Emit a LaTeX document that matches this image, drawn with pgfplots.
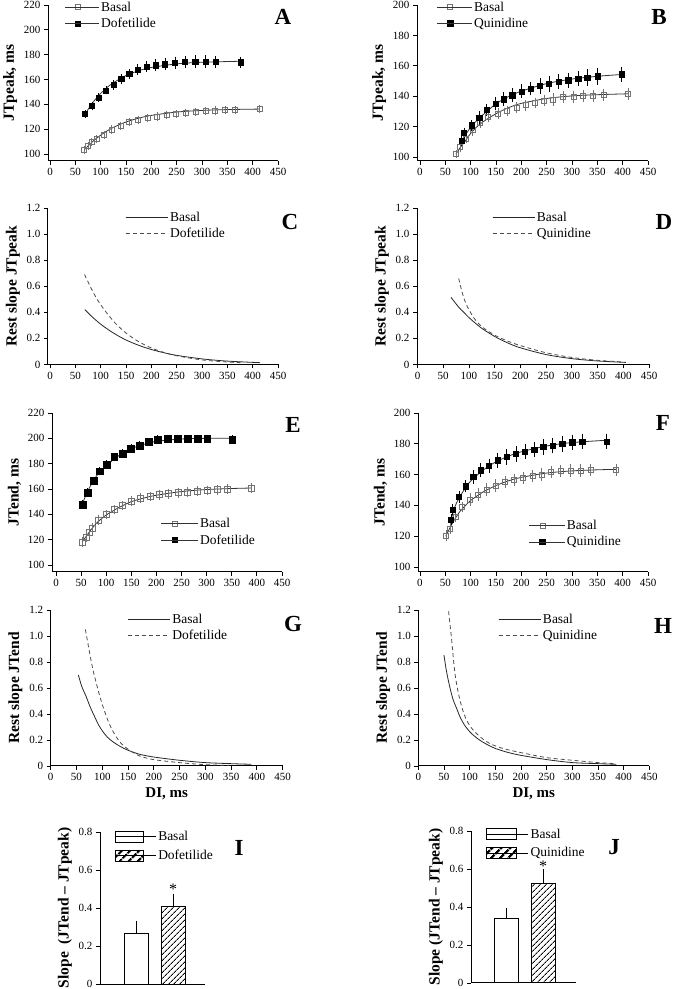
\documentclass[border=0pt]{standalone}
\usepackage{pgfplots}
\pgfplotsset{compat=1.18}
\usepackage{fontspec}
\setmainfont{Liberation Serif}
\usetikzlibrary{patterns.meta}
\pgfplotsset{
  panel/.style={scale only axis, axis lines*=left, tick align=outside,
    major tick length=4pt, axis line style={line width=1pt,-},
    tick style={line width=0.9pt,black},
    every tick label/.append style={font=\fontsize{11}{12}\selectfont},
    /pgf/number format/assume math mode=true,
    ylabel style={font=\fontsize{15.5}{17}\selectfont\bfseries},
    xlabel style={font=\fontsize{15}{17}\selectfont\bfseries},
    legend style={draw=none, fill=none, font=\fontsize{13.5}{15}\selectfont,
      anchor=north west, inner sep=0pt, row sep=1.5pt},
    legend cell align=left, clip=false},
  dix/.style={xmax=450, xtick={0,50,...,450}},
  slopey/.style={ymin=0, ymax=1.2, ytick={0,0.2,...,1.2},
    yticklabels={0,0.2,0.4,0.6,0.8,1.0,1.2}},
  markleg/.style={legend image code/.code={\draw[mark repeat=2,mark phase=2,##1] plot coordinates {(0pt,0pt) (#1/2,0pt) (#1,0pt)}; \path (0pt,0pt) -- (#1+8.5pt,0pt);}},
  lineleg/.style={legend image code/.code={\draw[##1] (0pt,0pt) -- (28pt,0pt); \path (0pt,0pt) -- (42pt,0pt);}},
  fit/.style={black!80, line width=0.8pt, smooth, no marks},
  openpts/.style={only marks, mark=square, mark size=2.5pt, mark options={draw=black!55, line width=0.8pt},
    error bars/y dir=both, error bars/y explicit,
    error bars/error bar style={black!55, line width=0.7pt},
    error bars/error mark options={black!55, mark size=2.3pt, line width=0.7pt}},
  fillpts/.style={only marks, mark=square*, mark size=2.6pt, mark options={black},
    error bars/y dir=both, error bars/y explicit,
    error bars/error bar style={black, line width=0.7pt},
    error bars/error mark options={black, mark size=2.3pt, line width=0.7pt}},
  barerr/.style={error bars/y dir=plus, error bars/y explicit,
    error bars/error bar style={line width=1pt},
    error bars/error mark options={line width=1pt, mark size=3pt}},
  solidc/.style={black!85, line width=0.8pt, smooth},
  dashc/.style={black!70, line width=0.8pt, smooth, dash pattern=on 4pt off 3pt},
  legopen/.style={black!80, line width=0.8pt, mark=square, mark size=2.6pt, mark options={draw=black!55, fill=white, solid}, markleg=#1},
  legfill/.style={black!80, line width=0.8pt, mark=square*, mark size=2.7pt, mark options={black, solid}, markleg=#1},
  legsolid/.style={black!85, line width=0.8pt, lineleg},
  legdash/.style={black!70, line width=0.8pt, dash pattern=on 4pt off 3pt, lineleg},
}
\begin{document}
\begin{tikzpicture}
\path[use as bounding box] (0pt,0pt) rectangle (673pt,989pt);

% ---------------- A ----------------
\begin{axis}[panel, dix, at={(48pt,828pt)}, anchor=south west, width=230pt, height=156pt,
  xmin=-4, ymin=94.4, ymax=220, ytick={100,120,...,220}, ylabel={JTpeak, ms},
  legend style={at={(0.072,1.035)}}]
\addplot[fit, forget plot] coordinates {(68,103.5)(80,108.5)(90,112.1)(100,115.2)(115,119.2)(130,122.4)(150,125.8)(175,128.9)(200,131.1)(250,133.8)(300,135.1)(350,135.8)(414,136.2)};
\addplot[fit, forget plot] coordinates {(69,132)(80,138.9)(90,144.3)(100,148.8)(112,153.4)(125,157.4)(150,163.2)(175,167.1)(200,169.7)(250,172.6)(300,173.9)(376,174.7)};
\addplot[openpts, forget plot] table[x=x,y=y,y error=e] {
x y e
67.7 103.2 1.5
75.5 106.5 1.5
82.2 109.5 1.5
92 112 1.5
106.5 115.5 1.5
121.7 119.8 1.5
139.4 122.8 1.5
156.4 125.8 1.5
174.2 127.3 1.5
192.7 128.8 1.5
211 130.2 1.5
230 131.3 1.5
249 132.2 1.5
267.5 132.9 1.5
287 133.8 1.5
307 134.4 1.5
326 135.1 1.5
346 135.3 1.5
365.7 135.4 1.5
414 136.2 1.5
};
\addplot[fillpts, forget plot] table[x=x,y=y,y error=e] {
x y e
69 132.2 1.5
83 138.7 1.5
96 145.4 1.5
110.5 151.3 1.5
125.6 155.6 1.8
140.6 160.4 2
156.4 164.4 2.2
173 168.1 2.5
190.7 170.3 2.8
208.5 171.6 2.8
227 172.4 3
246.5 173.5 3
266.3 174.2 3
286.6 174.5 3
307 174.5 3
327 174.4 3
376 174 2.5
};
\addlegendimage{legopen=25pt}
\addlegendentry{Basal}
\addlegendimage{legfill=25pt}
\addlegendentry{Dofetilide}
\end{axis}

% ---------------- B ----------------
\begin{axis}[panel, dix, at={(417pt,828pt)}, anchor=south west, width=231pt, height=156pt,
  xmin=-5.9, ymin=97.4, ymax=200, ytick={100,120,...,200}, ylabel={JTpeak, ms},
  legend style={at={(0.085,1.035)}}]
\addplot[fit, forget plot] coordinates {(71,102)(80,106.5)(90,111)(100,115.5)(112,119.8)(125,123.3)(150,128.5)(175,132.5)(200,135.3)(250,138.5)(300,140.2)(350,141)(411,141.6)};
\addplot[fit, forget plot] coordinates {(82,110.5)(90,114.8)(100,119.5)(112,124)(125,128)(150,135)(175,139.8)(200,143.3)(250,148.3)(300,151.3)(350,153.1)(398,154.3)};
\addplot[openpts, forget plot] table[x=x,y=y,y error=e] {
x y e
71 101.8 1
79 106.6 1.5
91 112 1.5
104 117.6 2
118.4 122.5 2
135 126.4 2
154.6 128.6 2
172.4 130.2 2
191 132.5 2
208.6 134 2
227 135.6 2
245 137.2 2
263 137.8 2.5
282 139.4 2.5
303 139.6 2.5
322.4 140.2 2.5
342 140.4 2.5
362 140.7 2.5
411 141.2 2.5
};
\addplot[fillpts, forget plot] table[x=x,y=y,y error=e] {
x y e
82 110.5 2
87 115.8 2
102 120.9 2
117 126 2.5
131.6 131.2 2.5
148.7 135.2 3
164.5 138 3
182 140.7 3
200.7 143.2 3
218.5 145 3
236.8 146.8 3.5
254.6 148 3.5
273 149.5 3.5
292.7 150.5 3.5
312.4 151.6 3.5
330 152.3 4
350 153.2 4
398 154.5 3.5
};
\addlegendimage{legopen=26pt}
\addlegendentry{Basal}
\addlegendimage{legfill=26pt}
\addlegendentry{Quinidine}
\end{axis}

% ---------------- C ----------------
\begin{axis}[panel, dix, slopey, at={(48pt,624.5pt)}, anchor=south west, width=230pt, height=156.5pt,
  xmin=-4, ylabel={Rest slope JTpeak}, legend style={at={(0.335,0.99)}}]
\addplot[solidc, forget plot] coordinates {(69,0.42)(80,0.377)(90,0.342)(100,0.309)(115,0.267)(130,0.230)(150,0.188)(175,0.147)(200,0.115)(225,0.090)(250,0.070)(300,0.043)(350,0.026)(414,0.014)};
\addplot[dashc, forget plot] coordinates {(68,0.69)(80,0.594)(90,0.52)(100,0.458)(115,0.38)(130,0.312)(150,0.241)(175,0.175)(200,0.127)(225,0.092)(250,0.067)(300,0.035)(350,0.019)(376,0.014)};
\addlegendimage{legsolid}
\addlegendentry{Basal}
\addlegendimage{legdash}
\addlegendentry{Dofetilide}
\end{axis}

% ---------------- D ----------------
\begin{axis}[panel, dix, slopey, at={(417pt,624.5pt)}, anchor=south west, width=232pt, height=156.5pt,
  xmin=-1, ylabel={Rest slope JTpeak}, legend style={at={(0.323,0.99)}}]
\addplot[solidc, forget plot] coordinates {(65,0.515)(80,0.44)(90,0.40)(100,0.36)(110,0.325)(125,0.277)(150,0.215)(175,0.166)(200,0.128)(250,0.076)(300,0.045)(350,0.027)(405,0.016)};
\addplot[dashc, forget plot] coordinates {(80,0.66)(85,0.58)(90,0.51)(95,0.46)(100,0.42)(110,0.355)(125,0.29)(150,0.225)(175,0.18)(200,0.145)(250,0.09)(300,0.054)(350,0.032)(398,0.02)};
\addlegendimage{legsolid}
\addlegendentry{Basal}
\addlegendimage{legdash}
\addlegendentry{Quinidine}
\end{axis}

% ---------------- E ----------------
\begin{axis}[panel, dix, at={(52pt,417pt)}, anchor=south west, width=230pt, height=159pt,
  xmin=-8, ymin=94.5, ymax=220, ytick={100,120,...,220}, ylabel={JTend, ms},
  legend style={at={(0.472,0.352)}}]
\addplot[fit, forget plot] coordinates {(52,118)(60,122.6)(70,128)(80,132.8)(90,136.4)(100,139.5)(125,145.3)(150,150)(175,152.9)(200,155.1)(250,158)(300,159.6)(350,160.4)(390,160.8)};
\addplot[fit, forget plot] coordinates {(52,148)(60,155.5)(70,163.5)(80,170)(90,174.5)(100,178.5)(125,186.3)(150,191.8)(175,195.3)(200,197.6)(250,199.5)(300,200)(351,200.1)};
\addplot[openpts, mark size=3pt, forget plot] table[x=x,y=y,y error=e] {
x y e
52.4 118.2 2
59.8 122 2
66.3 126 2
73 129.2 2
85 135.3 2
101 139.8 2
116 143.7 2
133 147.1 2
151 150.5 2
168.7 152.7 2
187 154 2
205 155.4 2
224.5 156.3 2
243.6 157.1 2
262 157.6 2
281.5 158.2 2
301 158.9 2
321 159.3 2
341 159.8 2
389.8 160.8 2
};
\addplot[fillpts, mark size=3.4pt, forget plot] table[x=x,y=y,y error=e] {
x y e
52.4 147.9 1.5
63 157.4 1.5
74.4 166.3 1.5
86.3 174 1.5
101 179.5 1.5
116 185.3 1.5
133 187.9 1.5
149.4 192.1 1.5
166 194.5 1.5
184 197.1 1.5
201.8 199 1.5
221.7 199.7 1.5
241.6 199.7 1.5
261.5 199.7 1.5
281.5 199.7 1.5
301 199.7 1.5
351 199.2 1.5
};
\addlegendimage{legopen=28pt}
\addlegendentry{Basal}
\addlegendimage{legfill=28pt}
\addlegendentry{Dofetilide}
\end{axis}

% ---------------- F ----------------
\begin{axis}[panel, dix, at={(418pt,417pt)}, anchor=south west, width=230pt, height=159pt,
  xmin=-3.9, ymin=96.75, ymax=200, ytick={100,120,...,200}, ylabel={JTend, ms},
  legend style={at={(0.48,0.34)}}]
\addplot[fit, forget plot] coordinates {(51,120)(60,126)(70,131.8)(80,136.5)(90,140)(100,143.2)(125,148.8)(150,152.9)(175,156)(200,158.2)(250,161)(300,162.4)(350,163.1)(387,163.4)};
\addplot[fit, forget plot] coordinates {(61,130.5)(70,140)(80,146.3)(90,151.5)(100,155.8)(125,163)(150,168.3)(175,172)(200,174.8)(250,178.6)(300,180.8)(368,182.3)};
\addplot[openpts, forget plot] table[x=x,y=y,y error=e] {
x y e
51.3 120.4 2
59.2 124.8 2
70.4 132.5 2
82.8 139 2
98.6 143.8 2.5
115 147 2.5
131.6 150.3 2.5
149.3 152.9 2.5
167.7 155 2.5
185.4 156.3 2.5
203.8 157.8 2.5
222.3 158.9 2.5
240 160 2.5
258.4 161.7 2.5
277.5 162.3 2.5
297 162.6 2.5
316.8 162.6 2.5
336.5 162.8 2.5
386.6 163 2.5
};
\addplot[fillpts, forget plot] table[x=x,y=y,y error=e] {
x y e
61.1 130.8 2
64.5 137.3 2
77 145.5 2.5
90.1 152.4 2.5
105.2 158.5 3
119.7 162.8 3
136 165.8 3
153.3 169.3 3.5
171 171.5 3.5
189.3 173.4 3.5
207.1 175.1 3.5
225.5 176.2 3.5
243.3 177.9 3.5
261.8 178.8 3.5
280.7 179.9 3.5
300.4 181 3.5
320.2 181.6 3.5
368.3 181.6 3.5
};
\addlegendimage{legopen=27pt}
\addlegendentry{Basal}
\addlegendimage{legfill=27pt}
\addlegendentry{Quinidine}
\end{axis}

% ---------------- G ----------------
\begin{axis}[panel, dix, slopey, at={(50.7pt,223pt)}, anchor=south west, width=232pt, height=156pt,
  xmin=0, ylabel={Rest slope JTend}, xlabel={DI, ms}, legend style={at={(0.33,0.99)}}]
\addplot[solidc, forget plot] coordinates {(53.7,0.70)(60,0.615)(69,0.532)(77,0.45)(85.4,0.378)(93,0.315)(101.6,0.262)(110,0.222)(121,0.185)(135,0.15)(150,0.121)(172.7,0.09)(200,0.069)(250,0.044)(300,0.026)(350,0.018)(389,0.013)};
\addplot[dashc, forget plot] coordinates {(67.3,1.05)(75.7,0.866)(82,0.74)(88.6,0.635)(95,0.54)(101.6,0.455)(110,0.36)(117.7,0.29)(127,0.225)(137,0.172)(153,0.121)(172.7,0.077)(200,0.049)(250,0.026)(300,0.010)(347,0.005)};
\addlegendimage{legsolid}
\addlegendentry{Basal}
\addlegendimage{legdash}
\addlegendentry{Dofetilide}
\end{axis}

% ---------------- H ----------------
\begin{axis}[panel, dix, slopey, at={(418.3pt,223pt)}, anchor=south west, width=231pt, height=156pt,
  xmin=0, ylabel={Rest slope JTend}, xlabel={DI, ms}, legend style={at={(0.345,0.99)}}]
\addplot[solidc, forget plot] coordinates {(50,0.853)(54,0.75)(58.4,0.66)(63,0.58)(68.2,0.506)(75,0.44)(81.2,0.378)(90,0.315)(100.6,0.262)(110,0.228)(120,0.198)(135,0.163)(150.6,0.134)(175,0.104)(200,0.082)(250.6,0.049)(300.6,0.026)(350.6,0.018)(386,0.013)};
\addplot[dashc, forget plot] coordinates {(59,1.19)(62,1.08)(65,0.97)(68,0.84)(71.4,0.712)(76,0.6)(81.2,0.506)(87,0.425)(94.2,0.352)(103,0.295)(113.6,0.249)(125,0.21)(139.6,0.172)(165.6,0.134)(200,0.103)(250.6,0.064)(300.6,0.044)(350.6,0.026)(386,0.018)};
\addlegendimage{legsolid}
\addlegendentry{Basal}
\addlegendimage{legdash}
\addlegendentry{Quinidine}
\end{axis}

% ---------------- I ----------------
\begin{axis}[panel, at={(100pt,5pt)}, anchor=south west, width=105pt, height=152pt,
  xmin=0, xmax=105, xtick=\empty, ymin=0, ymax=0.8, ytick={0,0.2,...,0.8},
  yticklabels={0,0.2,0.4,0.6,0.8}, ylabel={Slope\ \ (JTend -- JTpeak)},
  legend style={at={(0.13,1.02)}, row sep=4pt}]
\addplot[ybar, bar shift=0pt, bar width=24pt, draw=black, line width=1pt, fill=white, forget plot, barerr]
  coordinates {(36,0.268) +- (0,0.048)};
\addplot[ybar, bar shift=0pt, bar width=24pt, draw=black, line width=1pt, pattern={Lines[angle=45,distance=4pt,line width=0.9pt]}, forget plot, barerr]
  coordinates {(73,0.41) +- (0,0.048)};
\node[font=\fontsize{16}{16}\selectfont] at (axis cs:73,0.497) {*};
\addlegendimage{legend image code/.code={\draw[black,line width=1pt,fill=white] (0pt,-5.5pt) rectangle (28pt,5.5pt); \path (0,0) -- (41pt,0);}}
\addlegendentry{Basal}
\addlegendimage{legend image code/.code={\draw[black,line width=1pt,pattern={Lines[angle=45,distance=6.5pt,line width=2.4pt]}] (0pt,-5.5pt) rectangle (28pt,5.5pt); \path (0,0) -- (41pt,0);}}
\addlegendentry{Dofetilide}
\end{axis}

% ---------------- J ----------------
\begin{axis}[panel, at={(471pt,6pt)}, anchor=south west, width=105pt, height=152pt,
  xmin=0, xmax=105, xtick=\empty, ymin=0, ymax=0.8, ytick={0,0.2,...,0.8},
  yticklabels={0,0.2,0.4,0.6,0.8}, ylabel={Slope (JTend -- JTpeak)},
  legend style={at={(0.14,1.03)}, row sep=4pt}]
\addplot[ybar, bar shift=0pt, bar width=24pt, draw=black, line width=1pt, fill=white, forget plot, barerr]
  coordinates {(35,0.337) +- (0,0.042)};
\addplot[ybar, bar shift=0pt, bar width=24pt, draw=black, line width=1pt, pattern={Lines[angle=45,distance=4pt,line width=0.9pt]}, forget plot, barerr]
  coordinates {(72,0.526) +- (0,0.058)};
\node[font=\fontsize{16}{16}\selectfont] at (axis cs:72,0.615) {*};
\addlegendimage{legend image code/.code={\draw[black,line width=1pt,fill=white] (0pt,-5.5pt) rectangle (30pt,5.5pt); \path (0,0) -- (42pt,0);}}
\addlegendentry{Basal}
\addlegendimage{legend image code/.code={\draw[black,line width=1pt,pattern={Lines[angle=45,distance=6.5pt,line width=2.4pt]}] (0pt,-5.5pt) rectangle (30pt,5.5pt); \path (0,0) -- (42pt,0);}}
\addlegendentry{Quinidine}
\end{axis}

% panel letters
\begin{scope}[every node/.style={font=\fontsize{23}{23}\selectfont\bfseries}]
\node at (283pt,972pt) {A};
\node at (659pt,972pt) {B};
\node at (290pt,767pt) {C};
\node at (664pt,767pt) {D};
\node at (293pt,564pt) {E};
\node at (663pt,566pt) {F};
\node at (293pt,365pt) {G};
\node at (663pt,363pt) {H};
\node at (239pt,141pt) {I};
\node at (614pt,142pt) {J};
\end{scope}
\end{tikzpicture}
\end{document}
